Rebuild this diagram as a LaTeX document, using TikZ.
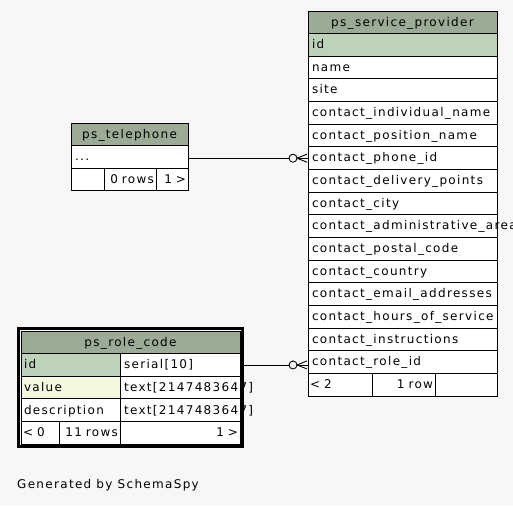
\documentclass[tikz,border=0pt]{standalone}
\usepackage{fontspec}
\newfontfamily\schemafont[LetterSpace=11]{DejaVu Sans}
\usetikzlibrary{positioning,chains,fit,backgrounds}
\definecolor{bggrey}{HTML}{F7F7F7}
\definecolor{headgreen}{HTML}{9BAB96}
\definecolor{keygreen}{HTML}{BED1B9}
\definecolor{valyellow}{HTML}{F5F8DE}
\hyphenpenalty=10000
\tikzset{
  cell/.style={
    rectangle,
    draw=black,
    fill=white,
    outer sep=0pt,
    inner xsep=4pt, inner ysep=0pt,
    minimum height=22.65pt,
    text height=9.5pt, text depth=2pt,
    font=\schemafont\fontsize{12}{14}\selectfont},
  headcell/.style={cell, fill=headgreen, align=center},
  colcell/.style={cell, align=left, on chain},
  footcell/.style={cell, inner xsep=2pt},
  manyend/.pic={
    \draw[fill=bggrey] (-15,0) circle [radius=4];
    \draw (-11,0) -- (-1,-4) (-11,0) -- (-1,4);
  }
}
\begin{document}
\begin{tikzpicture}
  [x=1pt, y=-1pt,
  line width=0.9pt,
  node distance=0pt]

  \clip (0,0) rectangle (513,505);
  \begin{scope}[on background layer]
    \fill[bggrey] (0,0) rectangle (513,505);
  \end{scope}

  % ps_service_provider
  \begin{scope}[start chain=going below, text width=181pt]
    \node[headcell, on chain] (Provider) at (402.5,22.3) {ps\_service\_provider};
    \node[colcell, fill=keygreen] (ProviderId) {id};
    \node[colcell] {name};
    \node[colcell] {site};
    \node[colcell] {contact\_individual\_name};
    \node[colcell] {contact\_position\_name};
    \node[colcell] (PhoneRef) {contact\_phone\_id};
    \node[colcell] {contact\_delivery\_points};
    \node[colcell] {contact\_city};
    \node[colcell] {contact\_administrative\_area};
    \node[colcell] {contact\_postal\_code};
    \node[colcell] {contact\_country};
    \node[colcell] {contact\_email\_addresses};
    \node[colcell] {contact\_hours\_of\_service};
    \node[colcell] {contact\_instructions};
    \node[colcell] (RoleRef) {contact\_role\_id};
  \end{scope}
  \node[footcell, text width=60pt, align=left, below right=0pt and 0pt of RoleRef.south west] (ProviderFootA) {< 2};
  \node[footcell, text width=59pt, align=right, right=0pt of ProviderFootA] (ProviderFootB) {1 row};
  \node[footcell, text width=58pt, right=0pt of ProviderFootB] (ProviderFootC) {};

  % ps_telephone
  \begin{scope}[start chain=going below, text width=109pt]
    \node[headcell, on chain] (Telephone) at (129.5,134.3) {ps\_telephone};
    \node[colcell] (TelDots) {...};
  \end{scope}
  \node[footcell, text width=29pt, below right=0pt and 0pt of TelDots.south west] (TelFootA) {};
  \node[footcell, text width=48pt, align=right, right=0pt of TelFootA] (TelFootB) {0 rows};
  \node[footcell, text width=28pt, align=right, right=0pt of TelFootB] (TelFootC) {1 >};

  % ps_role_code
  \node[headcell, text width=211pt] (RoleCode) at (130.5,342.3) {ps\_role\_code};
  \node[cell, inner xsep=3pt, text width=93pt, align=left, fill=keygreen,
    below right=0pt and 0pt of RoleCode.south west] (CodeId) {id};
  \node[cell, text width=112pt, align=left, right=0pt of CodeId] (CodeIdType) {serial[10]};
  \node[cell, inner xsep=3pt, text width=93pt, align=left, fill=valyellow, below=0pt of CodeId] (CodeValue) {value};
  \node[cell, text width=112pt, align=left, right=0pt of CodeValue] (CodeValueType) {text[2147483647]};
  \node[cell, inner xsep=3pt, text width=93pt, align=left, below=0pt of CodeValue] (CodeDesc) {description};
  \node[cell, text width=112pt, align=left, right=0pt of CodeDesc] (CodeDescType) {text[2147483647]};
  \node[footcell, text width=34pt, align=left, below=0pt of CodeDesc.south west, anchor=north west] (CodeFootA) {< 0};
  \node[footcell, text width=57pt, align=right, right=0pt of CodeFootA] (CodeFootB) {11 rows};
  \node[footcell, text width=116pt, align=right, right=0pt of CodeFootB] (CodeFootC) {1 >};
  \begin{scope}[on background layer]
    \node[draw, line width=3pt, inner sep=2.5pt, fit=(RoleCode)(CodeFootC)] (RoleFrame) {};
  \end{scope}

  % relations
  \draw (PhoneRef.west -| TelDots.east) -- (PhoneRef.west);
  \pic at (PhoneRef.west) {manyend};
  \draw (CodeIdType.east) -- (CodeIdType.east -| RoleRef.west);
  \pic at (CodeIdType.east -| RoleRef.west) {manyend};

  \node[font=\schemafont\fontsize{12}{14}\selectfont, inner sep=0pt, anchor=base west]
    (Credit) at (16.7,488.3) {Generated by SchemaSpy};
\end{tikzpicture}
\end{document}
